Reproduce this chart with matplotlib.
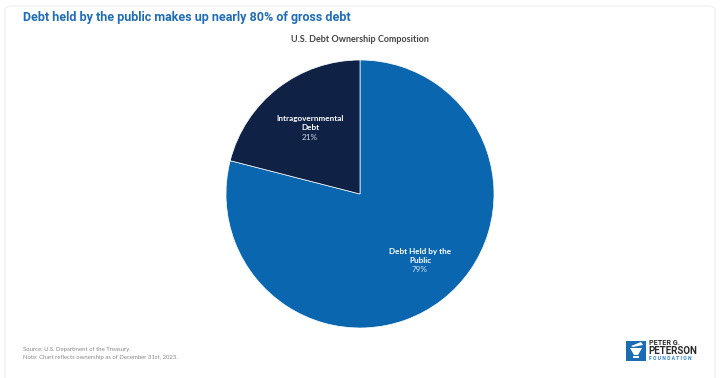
import matplotlib.pyplot as plt
from matplotlib.patches import FancyBboxPatch, Rectangle, Polygon

# data
labels = ["Debt Held by the\nPublic", "Intragovernmental\nDebt"]
shares = [79, 21]
colors = ["#0A67AF", "#0F2145"]

title = "Debt held by the public makes up nearly 80% of gross debt"
subtitle = "U.S. Debt Ownership Composition"
source = "Source: U.S. Department of the Treasury."
note = "Note: Chart reflects ownership as of December 31st, 2023."

W, H = 722, 378
fig = plt.figure(figsize=(W / 100, H / 100), dpi=100)
fig.patch.set_facecolor("white")

# faint card outline
card = FancyBboxPatch((5 / W, -20 / H), 710 / W, 392 / H,
                      boxstyle="round,pad=0,rounding_size=0.01",
                      transform=fig.transFigure, fill=False,
                      edgecolor="#ECECEC", linewidth=0.8)
fig.patches.append(card)

# pie axes: centre (360,194), radius 134 px
ax = fig.add_axes([226 / W, (H - 328) / H, 268 / W, 268 / H])
wedges, _ = ax.pie(shares, colors=colors, startangle=90, counterclock=False,
                   wedgeprops=dict(edgecolor="white", linewidth=0.5))
ax.set_xlim(-1, 1)
ax.set_ylim(-1, 1)
ax.set_aspect("equal")


def px(x, y):
    return x / W, 1 - y / H


# slice labels
for lab, val, (x, y) in zip(labels, shares, [(420, 256), (310, 123)]):
    fig.text(*px(x, y), lab, ha="center", va="center", color="white",
             fontsize=5.9, fontweight="bold", family="Lato", linespacing=1.35)
    fig.text(*px(x, y + 14), f"{val}%", ha="center", va="center",
             color="#D8DEE8", fontsize=5.9, family="Lato")

# title, sized to span the same width as the reference (~330 px)
t = fig.text(*px(23, 18), title, ha="left", va="center", color="#1F6DB6",
             fontsize=10, fontweight="bold", family="Roboto")
r = fig.canvas.get_renderer()
w = t.get_window_extent(r).width
t.set_fontsize(10 * 330 / w)

fig.text(*px(360, 40), subtitle, ha="center", va="center", color="#444444",
         fontsize=6.5, fontweight="bold", family="Lato")

fig.text(*px(23, 349), source, ha="left", va="center", color="#888888",
         fontsize=4.3, family="Lato")
fig.text(*px(23, 358), note, ha="left", va="center", color="#888888",
         fontsize=4.3, family="Lato")

# logo
fig.patches.append(Rectangle(px(626, 361), 20 / W, 20 / H, transform=fig.transFigure,
                             facecolor="#1A6DB5", edgecolor="none"))
cup = [px(630, 348), px(642, 348), px(638, 355), px(634, 355)]
fig.patches.append(Polygon(cup, closed=True, transform=fig.transFigure,
                           facecolor="white", edgecolor="none"))
flame = [px(631, 346), px(641, 342), px(643, 345), px(633, 347)]
fig.patches.append(Polygon(flame, closed=True, transform=fig.transFigure,
                           facecolor="white", edgecolor="none"))
fig.patches.append(Rectangle(px(633, 358), 6 / W, 2 / H, transform=fig.transFigure,
                             facecolor="white", edgecolor="none"))
fig.text(*px(649, 343), "PETER G.", ha="left", va="center", color="#2B2B2B",
         fontsize=5.2, fontweight="bold", family="Roboto")
fig.text(*px(648, 351), "PETERSON", ha="left", va="center", color="#2B2B2B",
         fontsize=7, fontweight="bold", family="Roboto")
fig.text(*px(649, 359), "F O U N D A T I O N", ha="left", va="center", color="#2A7FC8",
         fontsize=3.6, fontweight="bold", family="Roboto")

fig.savefig("out.png", dpi=100, facecolor="white")
